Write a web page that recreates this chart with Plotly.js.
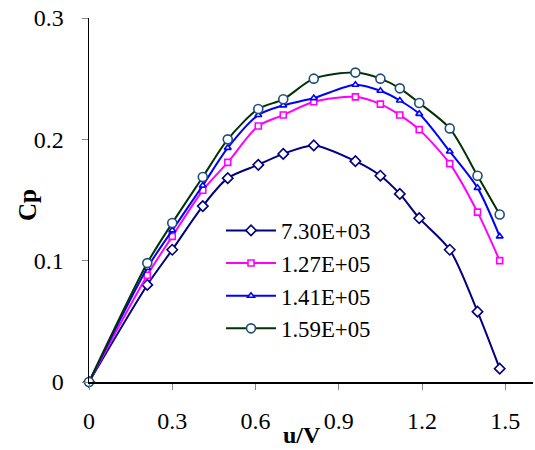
<!DOCTYPE html>
<html>
<head>
<meta charset="utf-8">
<script src="https://cdn.plot.ly/plotly-3.0.1.min.js"></script>
<style>html,body{margin:0;padding:0;background:#fff;}#chart{width:535px;height:450px;}</style>
</head>
<body>
<div id="chart"></div>
<script>
// u/V values (shared by all series)
var uV = [0, 0.21, 0.30, 0.41, 0.50, 0.61, 0.70, 0.81, 0.96, 1.05, 1.12, 1.19, 1.30, 1.40, 1.48];

// Cp series
var cp_730E03 = [0, 0.080, 0.109, 0.145, 0.168, 0.179, 0.188, 0.195, 0.182, 0.170, 0.155, 0.135, 0.109, 0.058, 0.011];
var cp_127E05 = [0, 0.088, 0.120, 0.158, 0.181, 0.211, 0.220, 0.231, 0.235, 0.229, 0.220, 0.208, 0.180, 0.140, 0.100];
var cp_141E05 = [0, 0.094, 0.125, 0.162, 0.193, 0.220, 0.228, 0.234, 0.245, 0.240, 0.232, 0.221, 0.190, 0.160, 0.120];
var cp_159E05 = [0, 0.098, 0.131, 0.169, 0.200, 0.225, 0.233, 0.250, 0.255, 0.250, 0.242, 0.230, 0.209, 0.170, 0.138];

var seriesNames = ['7.30E+03', '1.27E+05', '1.41E+05', '1.59E+05'];

var xTicks = [0, 0.3, 0.6, 0.9, 1.2, 1.5];
var xTickText = ['0', '0.3', '0.6', '0.9', '1.2', '1.5'];
var yTicks = [0, 0.1, 0.2, 0.3];
var yTickText = ['0', '0.1', '0.2', '0.3'];

var styles = [
  {line: '#000080', mline: '#000080', symbol: 'diamond', size: 8},
  {line: '#FF00FF', mline: '#FF00FF', symbol: 'square', size: 6},
  {line: '#0000FF', mline: '#0000FF', symbol: 'triangle-up', size: 6},
  {line: '#003300', mline: '#1F4E79', symbol: 'circle', size: 9}
];
var ys = [cp_730E03, cp_127E05, cp_141E05, cp_159E05];

var traces = ys.map(function (y, i) {
  var s = styles[i];
  return {
    x: uV, y: y, name: seriesNames[i], type: 'scatter', mode: 'lines+markers',
    legendgroup: 'g' + i, cliponaxis: false,
    line: {color: s.line, width: 2, shape: 'spline', smoothing: 0.8},
    marker: {symbol: s.symbol, size: s.size, color: '#FFFFFF', line: {color: s.mline, width: 1.6}}
  };
});

var fontFam = '"Liberation Serif", "Times New Roman", serif';

var layout = {
  width: 535, height: 450,
  margin: {l: 89, r: 2, t: 18, b: 68},
  paper_bgcolor: '#FFFFFF', plot_bgcolor: '#FFFFFF',
  font: {family: fontFam, size: 20, color: '#000'},
  showlegend: true,
  legend: {
    x: 0.2973, y: 0.475, xanchor: 'left', yanchor: 'top',
    bgcolor: 'rgba(0,0,0,0)', borderwidth: 0,
    font: {family: fontFam, size: 22.8, color: '#000'},
    itemwidth: 50,
    tracegroupgap: 0
  },
  xaxis: {
    range: [0, 1.6], tickvals: xTicks, ticktext: xTickText,
    showgrid: false, zeroline: false,
    showline: true, linecolor: '#000', linewidth: 1.5,
    ticks: 'outside', ticklen: 6, tickcolor: '#888', tickwidth: 1,
    ticklabelstandoff: 11,
    tickfont: {family: fontFam, size: 24, color: '#000'}
  },
  yaxis: {
    range: [0, 0.3], tickvals: yTicks, ticktext: yTickText,
    showgrid: false, zeroline: false,
    showline: true, linecolor: '#000', linewidth: 1.5,
    ticks: 'outside', ticklen: 6, tickcolor: '#888', tickwidth: 1,
    ticklabelstandoff: 13,
    tickfont: {family: fontFam, size: 24, color: '#000'}
  },
  annotations: [
    {text: '<b>u/V</b>', xref: 'paper', yref: 'paper', x: 0.48, y: 0, yshift: -53,
     xanchor: 'center', yanchor: 'middle', showarrow: false,
     font: {family: fontFam, size: 24, color: '#000'}},
    {text: '<b>Cp</b>', xref: 'paper', yref: 'paper', x: 0, xshift: -62, y: 0.486,
     xanchor: 'center', yanchor: 'middle', showarrow: false, textangle: -90,
     font: {family: fontFam, size: 25, color: '#000'}}
  ]
};

Plotly.newPlot('chart', traces, layout, {displayModeBar: false, staticPlot: true});
</script>
</body>
</html>
